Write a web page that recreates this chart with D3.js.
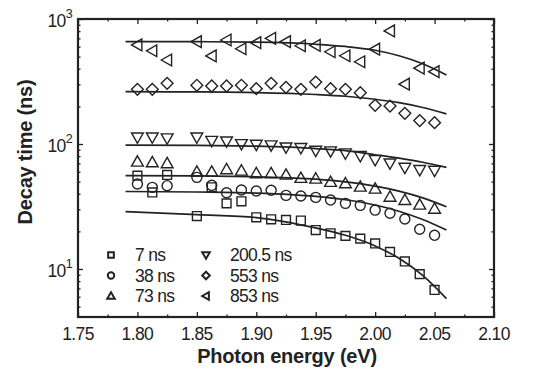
<!DOCTYPE html>
<html>
<head>
<meta charset="utf-8">
<title>Decay time vs photon energy</title>
<script src="https://d3js.org/d3.v7.min.js"></script>
<style>
  body { margin: 0; background: #fff; font-family: "Liberation Sans", Arial, sans-serif; }
  .axis path { display: none; }
  .axis line { stroke: #222; stroke-width: 1.3px; }
  .tick-label { font-size: 17.5px; fill: #222; letter-spacing: -0.6px; }
  .title { font-size: 20px; font-weight: bold; fill: #222; letter-spacing: -0.2px; }
  .legend text { font-size: 17.5px; fill: #222; letter-spacing: -0.7px; }
</style>
</head>
<body>
<div id="chart"></div>
<script>
  // measured energies (eV), shared by all series
  const energies = [1.8, 1.8125, 1.825, 1.85, 1.8625, 1.875, 1.8875, 1.9, 1.9125, 1.925,
                    1.9375, 1.95, 1.9625, 1.975, 1.9875, 2.0, 2.0125, 2.025, 2.0375, 2.05];

  // decay times (ns) per delay
  const tau7   = [55.8, 41, 56.5, 26.5, 45, 33.5, 34.8, 25.9, 25, 24.7, 24.4, 20.5, 19.3, 18.4, 17.5, 16, 13.7, 11.5, 9.1, 6.8];
  const tau38  = [47.9, 45, 46.4, 54.1, 46.7, 40.7, 42.9, 42.1, 42.6, 38.8, 38.4, 37.4, 35.6, 33.5, 32.3, 29.6, 27.9, 25.1, 20.8, 18.6];
  const tau73  = [72.2, 71.3, 70, 60, 60, 62.7, 61.2, 58.3, 58.3, 56.8, 53.5, 52.8, 49.7, 48.4, 45.5, 43.9, 37.8, 35.6, 32.7, 30.3];
  const tau200 = [113, 113, 111, 113, 106, 105, 100, 98.8, 97.6, 94, 92.9, 88.4, 87.4, 84.2, 80.2, 74.5, 70, 64.6, 62, 61.2];
  const tau553 = [274, 274, 306, 295, 291, 291, 295, 277, 306, 284, 274, 313, 277, 274, 257, 204, 201, 176, 154, 148];
  const tau853 = [620, 557, 470, 658, 506, 679, 578, 646, 701, 658, 611, 615, 547, 508, 455, 573, 802, 301, 404, 379];

  // fitted curves
  const fitEnergies = [1.79, 1.85, 1.9, 1.95, 1.975, 2.0, 2.02, 2.04, 2.06];
  const fit7   = [28.8, 27.2, 25.8, 21.3, 18.6, 15.3, 12.2, 8.9, 5.8];
  const fit38  = [41.7, 41.3, 40.5, 38.1, 35.8, 32.5, 29, 24.9, 20.5];
  const fit73  = [55.8, 55.5, 54.6, 52.3, 49.7, 46, 42, 37.1, 31.5];
  const fit200 = [98, 97.5, 96, 92, 88.5, 82, 77, 71.5, 65];
  const fit553 = [262, 261, 258, 249, 241, 228, 214, 196, 174];
  const fit853 = [658, 658, 652, 628, 603, 562, 508, 439, 357];

  const seriesLabels = ["7 ns", "38 ns", "73 ns", "200.5 ns", "553 ns", "853 ns"];
  const seriesShapes = ["square", "circle", "up", "down", "diamond", "left"];
  const xTicks = [1.75, 1.80, 1.85, 1.90, 1.95, 2.00, 2.05, 2.10];
  const yTicks = [10, 100, 1000];

  const series = [tau7, tau38, tau73, tau200, tau553, tau853];
  const fits = [fit7, fit38, fit73, fit200, fit553, fit853];

  const width = 544, height = 371;
  const margin = {left: 78, right: 50, top: 19, bottom: 54};

  const svg = d3.select("#chart").append("svg")
    .attr("width", width)
    .attr("height", height);

  const x = d3.scaleLinear().domain([1.75, 2.10]).range([margin.left, width - margin.right]);
  const y = d3.scaleLog().domain([Math.pow(10, 0.616), 1000]).range([height - margin.bottom, margin.top]);

  // marker outline centered at 0,0
  function shape(type, s) {
    const p = d3.path();
    if (type === "square") {
      p.rect(-s * 0.75, -s * 0.75, s * 1.5, s * 1.5);
    } else if (type === "circle") {
      p.moveTo(s * 0.85, 0); p.arc(0, 0, s * 0.85, 0, 2 * Math.PI);
    } else if (type === "up") {
      p.moveTo(0, -s); p.lineTo(s, s * 0.75); p.lineTo(-s, s * 0.75); p.closePath();
    } else if (type === "down") {
      p.moveTo(0, s); p.lineTo(s, -s * 0.75); p.lineTo(-s, -s * 0.75); p.closePath();
    } else if (type === "diamond") {
      p.moveTo(0, -s); p.lineTo(s, 0); p.lineTo(0, s); p.lineTo(-s, 0); p.closePath();
    } else if (type === "left") {
      p.moveTo(-s, 0); p.lineTo(s * 0.75, -s); p.lineTo(s * 0.75, s); p.closePath();
    }
    return p.toString();
  }

  // ticks
  const xMinor = d3.range(1.775, 2.1, 0.05);
  const yMinor = [];
  [1, 10, 100].forEach(d => { for (let k = 2; k <= 9; k++) if (d * k > y.domain()[0]) yMinor.push(d * k); });

  function addAxis(gen, tf, vals, size) {
    return svg.append("g").attr("class", "axis").attr("transform", tf)
      .call(gen.tickValues(vals).tickSize(-size).tickFormat(""));
  }
  const b = height - margin.bottom, r = width - margin.right;
  addAxis(d3.axisBottom(x), `translate(0,${b})`, xTicks, 5);
  addAxis(d3.axisBottom(x), `translate(0,${b})`, xMinor, 2.5);
  addAxis(d3.axisTop(x), `translate(0,${margin.top})`, xTicks, 5);
  addAxis(d3.axisTop(x), `translate(0,${margin.top})`, xMinor, 2.5);
  addAxis(d3.axisLeft(y), `translate(${margin.left},0)`, yTicks, 5);
  addAxis(d3.axisLeft(y), `translate(${margin.left},0)`, yMinor, 2.5);
  addAxis(d3.axisRight(y), `translate(${r},0)`, yTicks, 5);
  addAxis(d3.axisRight(y), `translate(${r},0)`, yMinor, 2.5);

  // frame
  svg.append("rect")
    .attr("x", margin.left).attr("y", margin.top)
    .attr("width", r - margin.left).attr("height", b - margin.top)
    .attr("fill", "none").attr("stroke", "#222").attr("stroke-width", 2.2);

  // tick labels
  svg.selectAll(".xlab").data(xTicks).enter().append("text")
    .attr("class", "tick-label")
    .attr("x", d => x(d)).attr("y", b + 23)
    .attr("text-anchor", "middle")
    .text(d => d.toFixed(2));

  const ylab = svg.selectAll(".ylab").data(yTicks).enter().append("text")
    .attr("class", "tick-label")
    .attr("x", margin.left - 6).attr("y", d => y(d) + 8)
    .attr("text-anchor", "end");
  ylab.append("tspan").text("10");
  ylab.append("tspan").attr("dy", -9).style("font-size", "12.5px").text(d => Math.round(Math.log10(d)));

  // axis titles
  svg.append("text").attr("class", "title")
    .attr("x", 287).attr("y", 363).attr("text-anchor", "middle")
    .text("Photon energy (eV)");
  svg.append("text").attr("class", "title")
    .attr("transform", "translate(32,152) rotate(-90)")
    .attr("text-anchor", "middle")
    .text("Decay time (ns)");

  // fitted lines
  const line = d3.line()
    .x((d, i) => x(fitEnergies[i]))
    .y(d => y(d))
    .curve(d3.curveMonotoneX);
  svg.selectAll(".fit").data(fits).enter().append("path")
    .attr("d", line)
    .attr("fill", "none").attr("stroke", "#222").attr("stroke-width", 1.7);

  // data markers
  series.forEach((vals, si) => {
    svg.append("g").selectAll("path").data(vals).enter().append("path")
      .attr("transform", (d, i) => `translate(${x(energies[i])},${y(d)})`)
      .attr("d", shape(seriesShapes[si], 5.9))
      .attr("fill", "none").attr("stroke", "#222").attr("stroke-width", 1.4);
  });

  // legend
  const legend = svg.append("g").attr("class", "legend");
  seriesLabels.forEach((lab, i) => {
    const col = Math.floor(i / 3), row = i % 3;
    const lx = col === 0 ? 111 : 206, ly = 255 + row * 20.5;
    legend.append("path")
      .attr("transform", `translate(${lx},${ly})`)
      .attr("d", shape(seriesShapes[i], 3.8))
      .attr("fill", "none").attr("stroke", "#222").attr("stroke-width", 2);
    legend.append("text").attr("x", lx + 24).attr("y", ly + 6).text(lab);
  });
</script>
</body>
</html>
